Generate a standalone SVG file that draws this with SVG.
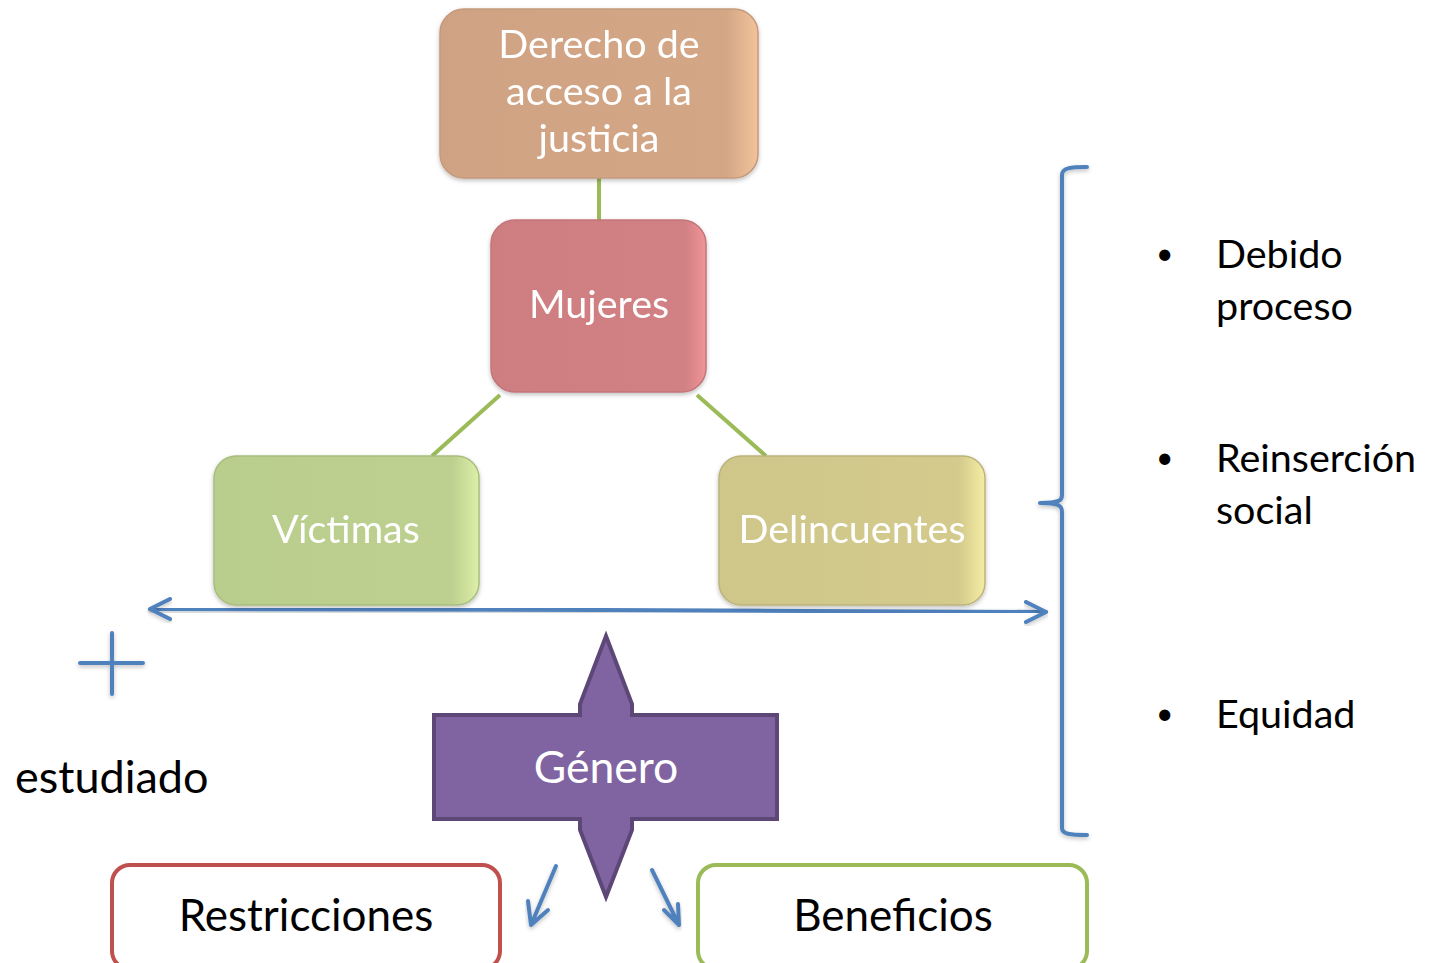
<svg xmlns="http://www.w3.org/2000/svg" width="1431" height="963" viewBox="0 0 1431 963">
<style>
.lbl{font-family:Lato,"Open Sans",sans-serif;font-size:39.5px;text-anchor:middle}
.big{font-size:44px}
.gen{font-size:44.5px}
.w{fill:#ffffff}
.k{fill:#000000}
.g{stroke:#9bbb59;stroke-width:4;fill:none}
.b{stroke:#4f81bd;stroke-width:4;fill:none;stroke-linecap:round;stroke-linejoin:round}
</style>
<defs>
<linearGradient id="gTan" x1="0" y1="0" x2="1" y2="0"><stop offset="0" stop-color="#cfa283"/><stop offset="0.9" stop-color="#d3a786"/><stop offset="1" stop-color="#f3c29a"/></linearGradient>
<linearGradient id="gRed" x1="0" y1="0" x2="1" y2="0"><stop offset="0" stop-color="#ce7e80"/><stop offset="0.9" stop-color="#d18083"/><stop offset="1" stop-color="#f09498"/></linearGradient>
<linearGradient id="gGreen" x1="0" y1="0" x2="1" y2="0"><stop offset="0" stop-color="#b9cd8d"/><stop offset="0.9" stop-color="#bdd08f"/><stop offset="1" stop-color="#dcf0a8"/></linearGradient>
<linearGradient id="gYel" x1="0" y1="0" x2="1" y2="0"><stop offset="0" stop-color="#cfc68a"/><stop offset="0.9" stop-color="#d3ca8c"/><stop offset="1" stop-color="#f5eca3"/></linearGradient>
<filter id="sh" x="-10%" y="-10%" width="120%" height="130%"><feDropShadow dx="0" dy="2" stdDeviation="2" flood-color="#000" flood-opacity="0.25"/></filter>
</defs>
<g id="connectors">
<line class="g" x1="599" y1="178" x2="599" y2="220"/>
<line class="g" x1="500" y1="395" x2="432" y2="456"/>
<line class="g" x1="697" y1="395" x2="766" y2="456"/>
<path class="b" d="M150,609 L600,610 L1046,612" stroke-width="5" filter="url(#sh)"/>
<path class="b" d="M170,599 L150,609 L170,619" stroke-width="5" filter="url(#sh)"/>
<path class="b" d="M1026,602 L1046,612 L1026,622" stroke-width="5" filter="url(#sh)"/>
<path class="b" d="M556,866 L531,925 M528,901 L531,925 L548,910" filter="url(#sh)"/>
<path class="b" d="M652,870 L679,925 M664,910 L679,925 L678,904" filter="url(#sh)"/>
</g>
<g id="n-derecho" filter="url(#sh)">
<rect x="440" y="9" width="318" height="169" rx="24" fill="url(#gTan)" stroke="#c49a7c" stroke-width="1.5"/>
<text class="lbl w" x="599" y="58">Derecho de</text>
<text class="lbl w" x="599" y="105">acceso a la</text>
<text class="lbl w" x="599" y="152">justicia</text>
</g>
<g id="n-mujeres" filter="url(#sh)">
<rect x="491" y="220" width="215" height="172" rx="24" fill="url(#gRed)" stroke="#c47579" stroke-width="1.5"/>
<text class="lbl w" x="599" y="318">Mujeres</text>
</g>
<g id="n-victimas" filter="url(#sh)">
<rect x="214" y="456" width="265" height="149" rx="22" fill="url(#gGreen)" stroke="#a9bd7f" stroke-width="1.5"/>
<text class="lbl w" x="346" y="543">Víctimas</text>
</g>
<g id="n-delincuentes" filter="url(#sh)">
<rect x="719" y="456" width="266" height="149" rx="22" fill="url(#gYel)" stroke="#bdb47c" stroke-width="1.5"/>
<text class="lbl w" x="852" y="543">Delincuentes</text>
</g>
<g id="n-plus">
<path class="b" d="M112,633 V694 M80,663 H143" stroke-width="2" stroke-linecap="butt" filter="url(#sh)"/>
</g>
<g id="n-estudiado">
<text x="15" y="793" font-family="Lato,'Open Sans',sans-serif" font-size="45" fill="#000">estudiado</text>
</g>
<g id="n-genero">
<path d="M606,636 L632,704 L632,715 L777,715 L777,819 L632,819 L632,830 L606,897 L580,830 L580,819 L434,819 L434,715 L580,715 L580,704 Z" fill="#8064a2" stroke="#5c4776" stroke-width="4" stroke-linejoin="miter"/>
<text class="lbl gen w" x="606" y="783">Género</text>
</g>
<g id="n-restricciones">
<rect x="112" y="865" width="388" height="104" rx="18" fill="#fff" stroke="#c0504d" stroke-width="4"/>
<text class="lbl big k" x="306" y="931">Restricciones</text>
</g>
<g id="n-beneficios">
<rect x="698" y="865" width="389" height="104" rx="18" fill="#fff" stroke="#9bbb59" stroke-width="4"/>
<text class="lbl big k" x="893" y="931">Beneficios</text>
</g>
<g id="n-bracket">
<path class="b" d="M1087,167 C1070,167 1062,168 1062,175 L1062,495 C1062,500 1060,503 1040,503 C1060,503 1062,506 1062,512 L1062,828 C1062,834 1070,835 1087,835" filter="url(#sh)"/>
</g>
<g id="n-list" font-family="Lato,'Open Sans',sans-serif" font-size="39.5" fill="#000">
<text x="1156" y="264" font-size="30">•</text>
<text x="1216" y="268">Debido</text>
<text x="1216" y="320">proceso</text>
<text x="1156" y="468" font-size="30">•</text>
<text x="1216" y="472">Reinserción</text>
<text x="1216" y="524">social</text>
<text x="1156" y="724" font-size="30">•</text>
<text x="1216" y="728">Equidad</text>
</g>
</svg>
